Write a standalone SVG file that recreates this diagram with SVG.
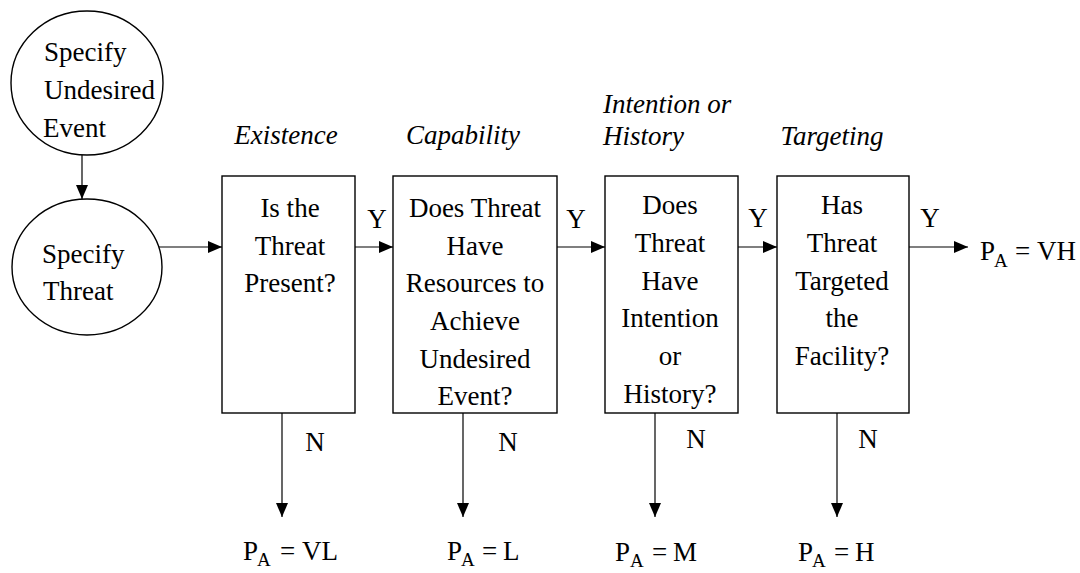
<svg xmlns="http://www.w3.org/2000/svg" width="1080" height="573" viewBox="0 0 1080 573">
<style>
text{font-family:"Liberation Serif","Times New Roman",serif;font-size:27px;fill:#000}
.c{text-anchor:middle}
.it{font-style:italic}
.sub{font-size:19px}
.shape{fill:#fff;stroke:#000;stroke-width:1.4}
.conn{stroke:#000;stroke-width:1.2;fill:none}
</style>
<defs>
<marker id="ah" markerUnits="userSpaceOnUse" markerWidth="15" markerHeight="13" refX="14" refY="6" orient="auto">
<path d="M0,0 L14,6 L0,12 z" fill="#000"/>
</marker>
</defs>
<rect width="1080" height="573" fill="#fff"/>

<g id="connectors">
<line class="conn" x1="82" y1="155" x2="82" y2="199" marker-end="url(#ah)"/>
<line class="conn" x1="159" y1="247" x2="222" y2="247" marker-end="url(#ah)"/>
<line class="conn" x1="355" y1="247" x2="393" y2="247" marker-end="url(#ah)"/>
<line class="conn" x1="557" y1="247" x2="605" y2="247" marker-end="url(#ah)"/>
<line class="conn" x1="738" y1="247" x2="777" y2="247" marker-end="url(#ah)"/>
<line class="conn" x1="909" y1="247" x2="968" y2="247" marker-end="url(#ah)"/>
<line class="conn" x1="282" y1="413" x2="282" y2="517" marker-end="url(#ah)"/>
<line class="conn" x1="463" y1="413" x2="463" y2="517" marker-end="url(#ah)"/>
<line class="conn" x1="655" y1="413" x2="655" y2="517" marker-end="url(#ah)"/>
<line class="conn" x1="837" y1="413" x2="837" y2="517" marker-end="url(#ah)"/>
<text x="377" y="228" class="c">Y</text>
<text x="576" y="228" class="c">Y</text>
<text x="758" y="227" class="c">Y</text>
<text x="930" y="227" class="c">Y</text>
<text x="315" y="451" class="c">N</text>
<text x="508" y="451" class="c">N</text>
<text x="696" y="448" class="c">N</text>
<text x="868" y="448" class="c">N</text>
</g>

<g id="undesired-event">
<ellipse class="shape" cx="87" cy="83" rx="76" ry="72"/>
<text x="44" y="61">Specify</text>
<text x="44" y="99">Undesired</text>
<text x="43" y="137">Event</text>
</g>

<g id="specify-threat">
<ellipse class="shape" cx="87" cy="267" rx="75" ry="68"/>
<text x="42" y="263">Specify</text>
<text x="43" y="300">Threat</text>
</g>

<g id="existence">
<text x="286" y="144" class="c it">Existence</text>
<rect class="shape" x="222" y="176" width="133" height="237"/>
<text x="290" y="217" class="c">Is the</text>
<text x="290" y="255" class="c">Threat</text>
<text x="290" y="292" class="c">Present?</text>
</g>

<g id="capability">
<text x="463" y="144" class="c it">Capability</text>
<rect class="shape" x="393" y="176" width="164" height="237"/>
<text x="475" y="217" class="c">Does Threat</text>
<text x="475" y="255" class="c">Have</text>
<text x="475" y="292" class="c">Resources to</text>
<text x="475" y="330" class="c">Achieve</text>
<text x="475" y="368" class="c">Undesired</text>
<text x="475" y="405" class="c">Event?</text>
</g>

<g id="intention">
<text x="603" y="113" class="it">Intention or</text>
<text x="603" y="145" class="it">History</text>
<rect class="shape" x="605" y="176" width="133" height="237"/>
<text x="670" y="214" class="c">Does</text>
<text x="670" y="252" class="c">Threat</text>
<text x="670" y="290" class="c">Have</text>
<text x="670" y="327" class="c">Intention</text>
<text x="670" y="365" class="c">or</text>
<text x="670" y="403" class="c">History?</text>
</g>

<g id="targeting">
<text x="832" y="145" class="c it">Targeting</text>
<rect class="shape" x="777" y="176" width="132" height="237"/>
<text x="842" y="214" class="c">Has</text>
<text x="842" y="252" class="c">Threat</text>
<text x="842" y="290" class="c">Targeted</text>
<text x="842" y="327" class="c">the</text>
<text x="842" y="365" class="c">Facility?</text>
</g>

<g id="pa-vh">
<text x="980" y="260">P<tspan class="sub" x="994" y="267">A</tspan><tspan x="1015" y="260">=</tspan><tspan x="1037" y="260">VH</tspan></text>
</g>
<g id="pa-vl">
<text x="243" y="560">P<tspan class="sub" x="257" y="566">A</tspan><tspan x="280" y="560">=</tspan><tspan x="302" y="560">VL</tspan></text>
</g>
<g id="pa-l">
<text x="447" y="560">P<tspan class="sub" x="461" y="566">A</tspan><tspan x="482" y="560">=</tspan><tspan x="503" y="560">L</tspan></text>
</g>
<g id="pa-m">
<text x="615" y="561">P<tspan class="sub" x="630" y="567">A</tspan><tspan x="652" y="561">=</tspan><tspan x="673" y="561">M</tspan></text>
</g>
<g id="pa-h">
<text x="798" y="561">P<tspan class="sub" x="812" y="567">A</tspan><tspan x="834" y="561">=</tspan><tspan x="855" y="561">H</tspan></text>
</g>
</svg>
